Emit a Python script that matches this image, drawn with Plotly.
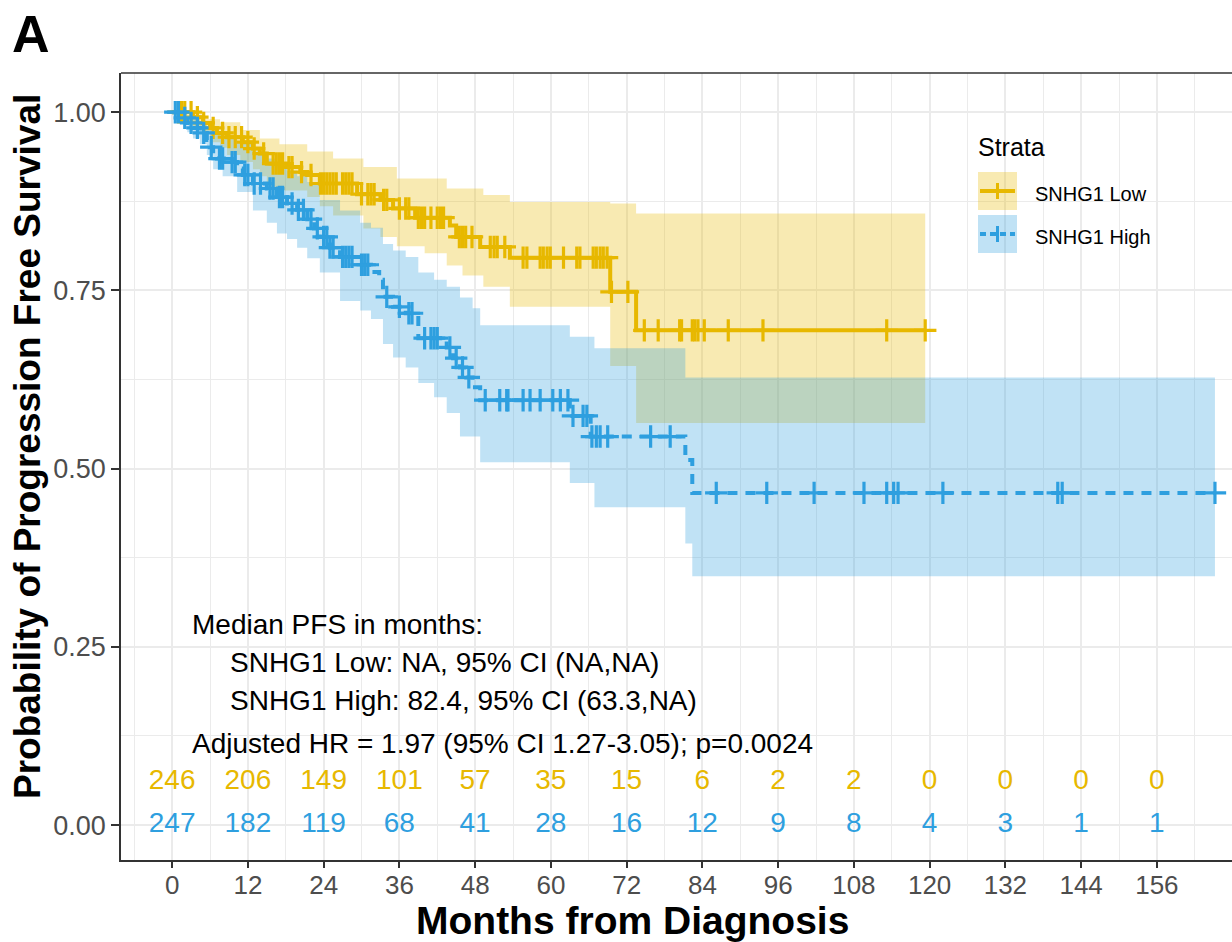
import numpy as np
import plotly.graph_objects as go

# ------------------------------------------------------------------ data
# SNHG1 Low (Kaplan-Meier step curve)
low_t = [0, 3.3, 4.9, 6.0, 7.1, 8.7, 11.2, 12.8, 13.9, 15.0, 18.2, 20.3, 21.4, 23.4,
         29.3, 33.0, 35.0, 38.5, 44.0, 45.0, 48.8, 53.5, 69.4, 73.5]
low_s = [1.0, 0.993, 0.985, 0.978, 0.971, 0.965, 0.958, 0.949, 0.942, 0.928, 0.923, 0.916,
         0.912, 0.900, 0.885, 0.877, 0.865, 0.852, 0.841, 0.825, 0.811, 0.796, 0.748, 0.694]
low_end = 119.3
low_censor = [1, 1.5, 2, 3, 4, 5, 6.5, 8, 9, 10, 11, 12, 13, 14.5, 16, 16.5, 17, 17.5, 18.5,
              19, 20.5, 22, 23.5, 24, 24.5, 25, 25.5, 26, 27, 27.5, 28, 28.5, 30, 31, 31.5,
              32, 33.5, 34, 36, 37, 37.5, 39, 39.5, 40, 41, 42, 42.5, 43, 45.5, 46, 46.5,
              47.5, 50.4, 51, 51.5, 52.7, 55.6, 56.2, 58.3, 58.8, 59.4, 59.9, 62, 64.1, 64.6,
              66.7, 67.2, 67.8, 68.3, 68.9, 69.6, 72.2, 74.8, 77.0, 80.4, 80.7, 82.4, 82.8,
              83.3, 84.3, 88.1, 93.6, 113.2, 119.3]
low_ci_t = [0, 3.3, 4.9, 6.0, 7.6, 8.7, 10.8, 12.8, 13.9, 15.0, 17.0, 21.4, 23.4, 25.5,
            30.3, 33.0, 35.6, 40.0, 43.5, 46.0, 49.3, 53.5, 69.4, 73.5]
low_upper = [1.0, 0.997, 0.990, 0.990, 0.986, 0.986, 0.975, 0.975, 0.963, 0.963, 0.955, 0.945,
             0.945, 0.935, 0.923, 0.923, 0.907, 0.907, 0.893, 0.893, 0.884, 0.874, 0.872, 0.858]
low_lower = [1.0, 0.980, 0.970, 0.958, 0.950, 0.940, 0.930, 0.920, 0.910, 0.895, 0.890, 0.881,
             0.868, 0.855, 0.837, 0.825, 0.812, 0.802, 0.785, 0.771, 0.755, 0.727, 0.644, 0.564]

# SNHG1 High
high_t = [0, 1.3, 2.4, 3.3, 4.4, 5.5, 6.0, 6.5, 7.1, 8.7, 10.3, 11.2, 12.8, 15.0, 16.6, 18.2,
          19.8, 21.4, 22.5, 23.4, 25.0, 26.6, 29.8, 31.5, 32.8, 33.4, 35.0, 37.0, 39.0, 43.5,
          44.5, 45.6, 46.6, 47.6, 48.8, 63.0, 66.3, 81.3, 82.4]
high_s = [1.0, 0.992, 0.985, 0.978, 0.971, 0.961, 0.951, 0.942, 0.935, 0.930, 0.921, 0.912,
          0.900, 0.893, 0.881, 0.872, 0.863, 0.850, 0.837, 0.825, 0.810, 0.797, 0.786, 0.776,
          0.765, 0.741, 0.727, 0.718, 0.683, 0.670, 0.655, 0.642, 0.628, 0.614, 0.596, 0.574,
          0.545, 0.512, 0.466]
high_end = 165.2
high_censor = [0.5, 1, 2, 3, 4, 5, 6.2, 7.5, 8, 9.5, 10, 11.5, 12, 13, 14, 15.5, 16, 17, 17.5,
               19, 20, 20.8, 22, 23, 24, 24.5, 25, 25.5, 27, 27.5, 28, 28.5, 30, 30.5, 31, 34,
               36, 37.5, 38, 40, 41, 41.5, 42, 44, 45, 46, 47, 49.6, 51.9, 53, 53.2, 55.6, 56.7,
               58.3, 60.3, 61.5, 62.7, 63.5, 65.1, 65.7, 66.5, 67.2, 67.8, 69, 75.8, 78.9, 86.2,
               94.2, 101.7, 109.6, 113.2, 114.3, 115, 122.1, 140.3, 141, 165.2]
high_ci_t = [0, 1.3, 2.4, 3.3, 4.4, 5.5, 6.5, 8.0, 10.3, 12.8, 15.0, 16.6, 18.2, 19.8, 21.4,
             23.4, 26.6, 29.8, 31.5, 33.4, 35.0, 37.0, 39.0, 41.5, 43.5, 45.6, 47.6, 48.8,
             63.0, 64.6, 66.9, 81.3, 82.4]
high_upper = [1.0, 0.999, 0.996, 0.992, 0.985, 0.979, 0.972, 0.966, 0.958, 0.945, 0.935, 0.926,
              0.918, 0.910, 0.902, 0.877, 0.862, 0.845, 0.838, 0.815, 0.806, 0.797, 0.775,
              0.765, 0.755, 0.740, 0.725, 0.701, 0.685, 0.685, 0.669, 0.628, 0.628]
high_lower = [1.0, 0.985, 0.972, 0.963, 0.955, 0.940, 0.920, 0.910, 0.888, 0.862, 0.845, 0.830,
              0.822, 0.810, 0.795, 0.775, 0.735, 0.722, 0.710, 0.675, 0.656, 0.642, 0.620,
              0.600, 0.578, 0.545, 0.545, 0.509, 0.480, 0.480, 0.446, 0.395, 0.349]

# numbers at risk
risk_times = [0, 12, 24, 36, 48, 60, 72, 84, 96, 108, 120, 132, 144, 156]
risk_low = [246, 206, 149, 101, 57, 35, 15, 6, 2, 2, 0, 0, 0, 0]
risk_high = [247, 182, 119, 68, 41, 28, 16, 12, 9, 8, 4, 3, 1, 1]

x_ticks = [0, 12, 24, 36, 48, 60, 72, 84, 96, 108, 120, 132, 144, 156]
y_ticks = [0, 0.25, 0.5, 0.75, 1.0]
y_tick_labels = ["0.00", "0.25", "0.50", "0.75", "1.00"]

series_names = ["SNHG1 Low", "SNHG1 High"]
annotation_lines = [
    "Median PFS in months:",
    "SNHG1 Low: NA, 95% CI (NA,NA)",
    "SNHG1 High: 82.4, 95% CI (63.3,NA)",
    "Adjusted HR = 1.97 (95% CI 1.27-3.05); p=0.0024",
]

# ------------------------------------------------------------------ style
W, H = 1232, 942
ML, MR, MT, MB = 121, 0, 73, 82
FONT = "Liberation Sans, Arial, Helvetica, sans-serif"
YEL = "#E7B800"
BLU = "#2E9FDF"
YEL_BAND = "rgba(231,184,0,0.30)"
BLU_BAND = "rgba(46,159,223,0.30)"
GRID = "#EBEBEB"


def px2paper(px, py):
    return (px - ML) / (W - ML - MR), (H - MB - py) / (H - MT - MB)


def steps(t, v, end):
    xs, ys = [], []
    for i in range(len(t)):
        nxt = t[i + 1] if i + 1 < len(t) else end
        xs += [t[i], nxt]
        ys += [v[i], v[i]]
    return xs, ys


def surv_at(t, s, times):
    idx = np.searchsorted(np.array(t), np.array(times), side="right") - 1
    return [s[i] for i in idx]


fig = go.Figure()

# confidence bands
for ci_t, up, lo, end, col in [
    (low_ci_t, low_upper, low_lower, low_end, YEL_BAND),
    (high_ci_t, high_upper, high_lower, high_end, BLU_BAND),
]:
    xu, yu = steps(ci_t, up, end)
    xl, yl = steps(ci_t, lo, end)
    fig.add_trace(go.Scatter(x=xu + xl[::-1], y=yu + yl[::-1], fill="toself",
                             fillcolor=col, line=dict(width=0), mode="lines",
                             hoverinfo="skip", showlegend=False))

# survival curves
for t, s, end, col, dash in [
    (low_t, low_s, low_end, YEL, "solid"),
    (high_t, high_s, high_end, BLU, "10px,8px"),
]:
    fig.add_trace(go.Scatter(x=t + [end], y=s + [s[-1]], mode="lines", line_shape="hv",
                             line=dict(color=col, width=4, dash=dash), showlegend=False))

# censor marks
for t, s, cens, col in [
    (low_t, low_s, low_censor, YEL),
    (high_t, high_s, high_censor, BLU),
]:
    fig.add_trace(go.Scatter(x=cens, y=surv_at(t, s, cens), mode="markers",
                             marker=dict(symbol="cross-thin", size=16,
                                         line=dict(width=3.2, color=col)),
                             showlegend=False))

# numbers at risk
fig.add_trace(go.Scatter(x=risk_times, y=[0.06] * len(risk_times), mode="text",
                         text=[str(v) for v in risk_low],
                         textfont=dict(family=FONT, size=28, color=YEL), showlegend=False))
fig.add_trace(go.Scatter(x=risk_times, y=[0.0] * len(risk_times), mode="text",
                         text=[str(v) for v in risk_high],
                         textfont=dict(family=FONT, size=28, color=BLU), showlegend=False))

annotations = []
# median / HR text
for txt, ax, ay in zip(annotation_lines, [2.85, 8.87, 8.87, 2.85], [0.282, 0.2286, 0.175, 0.115]):
    annotations.append(dict(x=ax, y=ay, xref="x", yref="y", text=txt, showarrow=False,
                            xanchor="left", yanchor="middle",
                            font=dict(family=FONT, size=28, color="black")))

# axis titles and panel letter
px, py = px2paper(632, 920)
annotations.append(dict(x=px, y=py, xref="paper", yref="paper", text="<b>Months from Diagnosis</b>",
                        showarrow=False, xanchor="center", yanchor="middle",
                        font=dict(family=FONT, size=39, color="black")))
px, py = px2paper(27, 447)
annotations.append(dict(x=px, y=py, xref="paper", yref="paper",
                        text="<b>Probability of Progression Free Survival</b>", textangle=-90,
                        showarrow=False, xanchor="center", yanchor="middle",
                        font=dict(family=FONT, size=37, color="black")))
px, py = px2paper(31, 34)
annotations.append(dict(x=px, y=py, xref="paper", yref="paper", text="<b>A</b>",
                        showarrow=False, xanchor="center", yanchor="middle",
                        font=dict(family=FONT, size=52, color="black")))

# legend (drawn manually)
px, py = px2paper(976, 147)
annotations.append(dict(x=px, y=py, xref="paper", yref="paper", text="Strata", showarrow=False,
                        xanchor="left", yanchor="middle",
                        font=dict(family=FONT, size=25, color="black")))
shapes = []
for name, yc, col, band, dash in [
    (series_names[0], 191, YEL, YEL_BAND, "solid"),
    (series_names[1], 234, BLU, BLU_BAND, "dash"),
]:
    x0, y0 = px2paper(978, yc - 19)
    x1, y1 = px2paper(1017, yc + 19)
    shapes.append(dict(type="rect", xref="paper", yref="paper", x0=x0, x1=x1, y0=y0, y1=y1,
                       fillcolor=band, line=dict(width=0), layer="above"))
    lx0, ly = px2paper(980, yc)
    lx1, _ = px2paper(1015, yc)
    shapes.append(dict(type="line", xref="paper", yref="paper", x0=lx0, x1=lx1, y0=ly, y1=ly,
                       line=dict(color=col, width=4, dash=("solid" if dash == "solid" else "6px,4px")),
                       layer="above"))
    cx, cy0 = px2paper(997.5, yc - 8)
    _, cy1 = px2paper(997.5, yc + 8)
    shapes.append(dict(type="line", xref="paper", yref="paper", x0=cx, x1=cx, y0=cy0, y1=cy1,
                       line=dict(color=col, width=3), layer="above"))
    tx, ty = px2paper(1033, yc + 3)
    annotations.append(dict(x=tx, y=ty, xref="paper", yref="paper", text=name, showarrow=False,
                            xanchor="left", yanchor="middle",
                            font=dict(family=FONT, size=20, color="black")))

# top panel border (right side of the panel is cropped in the reference)
shapes.append(dict(type="line", xref="paper", yref="paper", x0=0, x1=1, y0=1, y1=1,
                   line=dict(color="#333333", width=1.6), layer="above"))

fig.update_layout(
    width=W, height=H,
    margin=dict(l=ML, r=MR, t=MT, b=MB, pad=0),
    paper_bgcolor="white", plot_bgcolor="white",
    showlegend=False,
    annotations=annotations,
    shapes=shapes,
    font=dict(family=FONT),
    xaxis=dict(
        range=[-8.1, 167.9], tickmode="array", tickvals=x_ticks,
        ticktext=[str(v) for v in x_ticks],
        tickfont=dict(family=FONT, size=26, color="#4D4D4D"),
        ticks="outside", ticklen=6, tickwidth=1.5, tickcolor="#333333",
        ticklabelstandoff=-5,
        showline=True, linecolor="#333333", linewidth=1.6,
        showgrid=True, gridcolor=GRID, gridwidth=1.6, zeroline=False,
        minor=dict(tick0=0, dtick=6, showgrid=True, gridcolor=GRID, gridwidth=0.8, ticks=""),
    ),
    yaxis=dict(
        range=[-0.049, 1.055], tickmode="array", tickvals=y_ticks, ticktext=y_tick_labels,
        tickfont=dict(family=FONT, size=27, color="#4D4D4D"),
        ticks="outside", ticklen=8, tickwidth=1.5, tickcolor="#333333",
        showline=True, linecolor="#333333", linewidth=1.6,
        showgrid=True, gridcolor=GRID, gridwidth=1.6, zeroline=False,
        minor=dict(tick0=0, dtick=0.125, showgrid=True, gridcolor=GRID, gridwidth=0.8, ticks=""),
    ),
)

fig.write_html("out.html")
